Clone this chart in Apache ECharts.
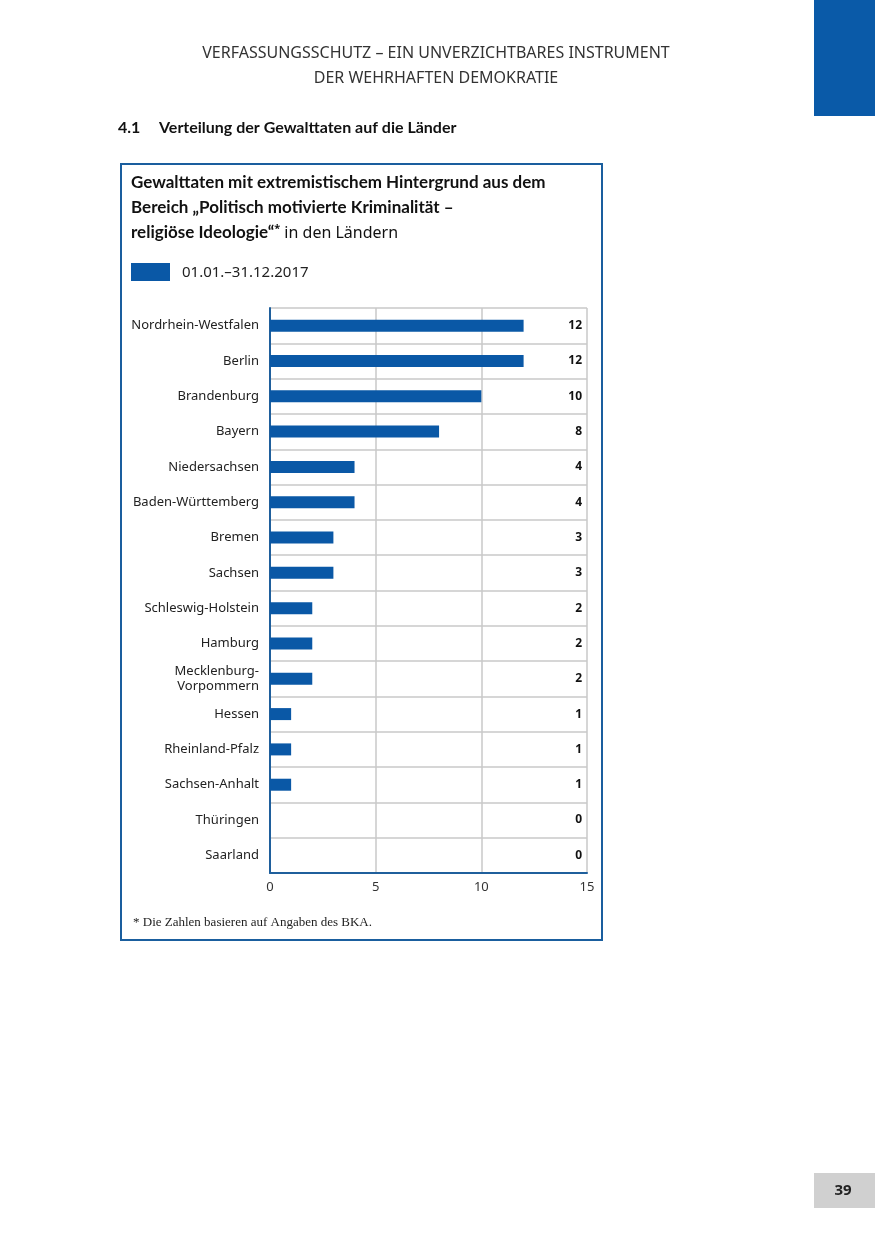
<!DOCTYPE html>
<html><head><meta charset="utf-8">
<script src="https://cdn.jsdelivr.net/npm/echarts@6/dist/echarts.min.js"></script>
<style>html,body{margin:0;padding:0;background:#fff}#c{width:875px;height:1241px}</style>
</head><body><div id="c"></div>
<script>
const categories = ["Nordrhein-Westfalen","Berlin","Brandenburg","Bayern","Niedersachsen","Baden-Württemberg","Bremen","Sachsen","Schleswig-Holstein","Hamburg","Mecklenburg-\nVorpommern","Hessen","Rheinland-Pfalz","Sachsen-Anhalt","Thüringen","Saarland"];
const values2017 = [12,12,10,8,4,4,3,3,2,2,2,1,1,1,0,0];
const seriesName = "01.01.–31.12.2017";
const xTicks = [0,5,10,15];

const BLUE = '#0a58a6';
const FONT = '"Noto Sans", "Open Sans", sans-serif';
const BFONT = 'Lato, "Noto Sans", sans-serif';
const chart = echarts.init(document.getElementById('c'), null, {renderer:'canvas'});
chart.setOption({
  animation:false,
  backgroundColor:'#fff',
  textStyle:{fontFamily:FONT},
  grid:{left:270, top:308, width:317, height:565, containLabel:false},
  xAxis:{type:'value', min:xTicks[0], max:xTicks[xTicks.length-1], interval:5,
    axisLine:{show:true, onZero:false, lineStyle:{color:'#1f5f9c', width:2}},
    axisTick:{show:false},
    axisLabel:{color:'#333', fontSize:13, margin:8, fontFamily:FONT},
    splitLine:{show:true, lineStyle:{color:'#c8c8c8', width:1.5}}},
  yAxis:[
    {type:'category', data:categories, inverse:true,
     axisLine:{show:true, lineStyle:{color:'#1f5f9c', width:2}},
     axisTick:{show:false},
     axisLabel:{color:'#222', fontSize:13, margin:11, lineHeight:15, fontFamily:FONT},
     splitLine:{show:true, lineStyle:{color:'#c8c8c8', width:1.5}}},
    {type:'category', data:values2017.map(String), inverse:true, position:'right',
     axisLine:{show:false}, axisTick:{show:false}, splitLine:{show:false},
     axisLabel:{inside:true, margin:5, color:'#111', fontSize:12, fontWeight:'bold', fontFamily:FONT, padding:[2,0,0,0]}}
  ],
  series:[{type:'bar', name:seriesName, data:values2017, barWidth:12, yAxisIndex:0,
    itemStyle:{color:BLUE}}],
  graphic:[
    {type:'rect', shape:{x:814,y:0,width:61,height:116}, style:{fill:'#0a5aa8'}},
    {type:'rect', shape:{x:814,y:1173,width:61,height:35}, style:{fill:'#d0d0d0'}},
    {type:'text', x:843, y:1191, style:{text:'39', fontFamily:FONT, fontSize:15, fontWeight:'bold', fill:'#222', align:'center', verticalAlign:'middle'}},
    {type:'text', x:436, y:53, style:{text:'VERFASSUNGSSCHUTZ – EIN UNVERZICHTBARES INSTRUMENT', fontFamily:FONT, fontSize:16, fill:'#333', align:'center', verticalAlign:'middle'}},
    {type:'text', x:436, y:78, style:{text:'DER WEHRHAFTEN DEMOKRATIE', fontFamily:FONT, fontSize:16, fill:'#333', align:'center', verticalAlign:'middle'}},
    {type:'text', x:118, y:128, style:{text:'4.1', fontFamily:BFONT, fontSize:16, fontWeight:'bold', fill:'#111', verticalAlign:'middle'}},
    {type:'text', x:159, y:128, style:{text:'Verteilung der Gewalttaten auf die Länder', fontFamily:BFONT, fontSize:16, fontWeight:'bold', fill:'#111', verticalAlign:'middle'}},
    {type:'rect', shape:{x:121,y:164,width:481,height:776}, style:{fill:'none', stroke:'#1a5e9e', lineWidth:2}},
    {type:'text', x:131, y:183, style:{text:'Gewalttaten mit extremistischem Hintergrund aus dem', fontFamily:BFONT, fontSize:17, fontWeight:'bold', fill:'#111', verticalAlign:'middle'}},
    {type:'text', x:131, y:208, style:{text:'Bereich „Politisch motivierte Kriminalität –', fontFamily:BFONT, fontSize:17, fontWeight:'bold', fill:'#111', verticalAlign:'middle'}},
    {type:'text', x:131, y:233, style:{text:'{b|religiöse Ideologie“}{s|*}{n| in den Ländern}', verticalAlign:'middle',
      rich:{b:{fontFamily:BFONT, fontSize:17, fontWeight:'bold', fill:'#111'},
            s:{fontFamily:FONT, fontSize:11, fontWeight:'bold', fill:'#111', verticalAlign:'top', padding:[0,0,8,0]},
            n:{fontFamily:FONT, fontSize:16, fill:'#111'}}}},
    {type:'rect', shape:{x:131,y:263,width:39,height:18}, style:{fill:BLUE}},
    {type:'text', x:182, y:273, style:{text:seriesName, fontFamily:FONT, fontSize:15, fill:'#222', verticalAlign:'middle'}},
    {type:'text', x:133, y:923, style:{text:'* Die Zahlen basieren auf Angaben des BKA.', fontFamily:'"Liberation Serif", "DejaVu Serif", serif', fontSize:13, fill:'#222', verticalAlign:'middle'}}
  ]
});
</script></body></html>
